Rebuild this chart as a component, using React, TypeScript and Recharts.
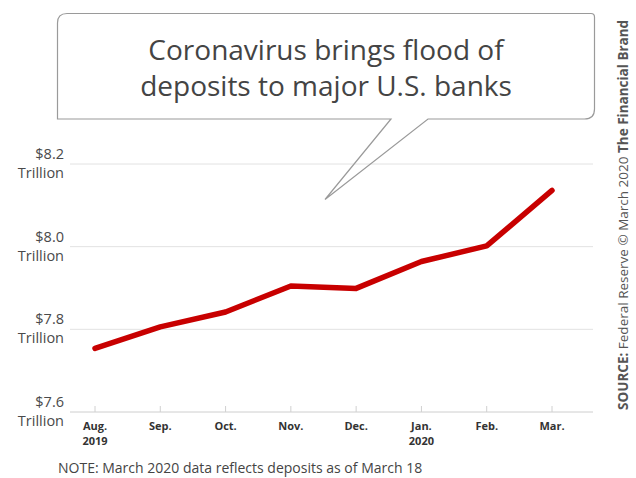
import React from 'react';
import { LineChart, Line, XAxis, YAxis, CartesianGrid } from 'recharts';

const months = ['Aug.', 'Sep.', 'Oct.', 'Nov.', 'Dec.', 'Jan.', 'Feb.', 'Mar.'];
const years = ['2019', '', '', '', '', '2020', '', ''];
const deposits = [7.754, 7.806, 7.842, 7.905, 7.899, 7.964, 8.002, 8.136];
const yTicks = [7.6, 7.8, 8.0, 8.2];
const titleLines = ['Coronavirus brings flood of', 'deposits to major U.S. banks'];
const noteText = 'NOTE: March 2020 data reflects deposits as of March 18';

const data = months.map((m, i) => ({ month: m, year: years[i], value: deposits[i] }));

const FONT = '"Open Sans", sans-serif';

const YTick = (props: any) => {
  const { x, y, payload } = props;
  return (
    <g>
      <text x={x} y={y - 5} textAnchor="end" fill="#4a4a4a" fontSize={14.5} fontFamily={FONT}>
        {`$${Number(payload.value).toFixed(1)}`}
      </text>
      <text x={x} y={y + 14} textAnchor="end" fill="#4a4a4a" fontSize={14.5} fontFamily={FONT}>
        Trillion
      </text>
    </g>
  );
};

const XTick = (props: any) => {
  const { x, y, payload, index } = props;
  const yr = years[index] || '';
  return (
    <g>
      <line x1={x} x2={x} y1={y - 6} y2={y} stroke="#d0d0d0" strokeWidth={1} />
      <text x={x} y={y + 18} textAnchor="middle" fill="#333" fontSize={11} fontWeight={700} fontFamily={FONT}>
        {payload.value}
      </text>
      {yr ? (
        <text x={x} y={y + 33} textAnchor="middle" fill="#333" fontSize={11} fontWeight={700} fontFamily={FONT}>
          {yr}
        </text>
      ) : null}
    </g>
  );
};

export default function App() {
  return (
    <div style={{ position: 'absolute', left: 0, top: 0, width: 636, height: 478, background: '#fff' }}>
      <LineChart width={636} height={478} data={data} margin={{ top: 164, right: 43, bottom: 0, left: 0 }}>
        <CartesianGrid horizontal vertical={false} stroke="#e2e2e2" />
        <XAxis
          dataKey="month"
          height={66}
          padding={{ left: 25, right: 41 }}
          axisLine={{ stroke: '#dcdcdc' }}
          tickLine={false}
          tickSize={0}
          tickMargin={0}
          interval={0}
          tick={<XTick />}
        />
        <YAxis
          width={70}
          domain={[7.6, 8.2]}
          ticks={yTicks}
          axisLine={false}
          tickLine={false}
          tickSize={0}
          tickMargin={6}
          tick={<YTick />}
        />
        <Line
          type="linear"
          dataKey="value"
          stroke="#c80000"
          strokeWidth={5.5}
          strokeLinecap="round"
          strokeLinejoin="round"
          dot={false}
          activeDot={false}
          isAnimationActive={false}
        />
      </LineChart>
      <svg width={636} height={478} style={{ position: 'absolute', left: 0, top: 0, pointerEvents: 'none' }}>
        <path
          d="M 67 13.5 L 591 13.5 Q 594.5 13.5 594.5 17 L 594.5 109 Q 594.5 119 584.5 119 L 428 119 L 325 199.5 L 391 119 L 57.5 119 L 57.5 23 Q 57.5 13.5 67 13.5 Z"
          fill="none"
          stroke="#9a9a9a"
          strokeWidth={1.2}
        />
        <text x={326} y={60} textAnchor="middle" fill="#444" fontSize={28} fontFamily={FONT}>
          {titleLines[0]}
        </text>
        <text x={326} y={96} textAnchor="middle" fill="#444" fontSize={28} fontFamily={FONT}>
          {titleLines[1]}
        </text>
        <text x={58} y={473} fill="#444" fontSize={14} fontFamily={FONT}>
          {noteText}
        </text>
        <text
          x={0}
          y={0}
          transform="translate(628,410) rotate(-90)"
          fill="#555"
          fontSize={13.5}
          fontFamily={FONT}
        >
          <tspan fontWeight={700}>SOURCE:</tspan>
          <tspan> Federal Reserve © March 2020 </tspan>
          <tspan fontWeight={700}>The Financial Brand</tspan>
        </text>
      </svg>
    </div>
  );
}
